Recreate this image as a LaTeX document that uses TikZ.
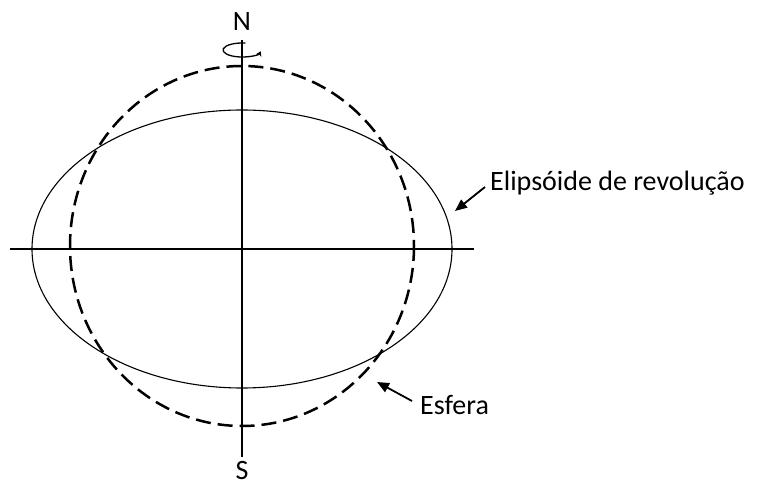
\documentclass[tikz,border=0pt]{standalone}
\usepackage{fontspec}
\setmainfont{Carlito}
\usetikzlibrary{arrows.meta}
\begin{document}
\begin{tikzpicture}[x=1pt,y=-1pt,
  lbl/.style={font=\fontsize{28}{32}\selectfont,inner sep=0pt},
  ptr/.style={line width=1.8pt,-{Triangle[length=12pt,width=10pt]}}]
\useasboundingbox (0,0) rectangle (761,486);
% axes
\coordinate (axT) at (242,40);
\coordinate (axB) at (242,457);
\coordinate (axL) at (10,249);
\coordinate (axR) at (474,249);
\draw[line width=1.3pt] (axT) -- (axB);
\draw[line width=1.3pt] (axL) -- (axR);
% ellipsoid
\draw[line width=1.1pt] (242,249) ellipse [x radius=210, y radius=139];
% sphere
\draw[line width=2.5pt,dash pattern=on 15pt off 7pt] (242,246) ellipse [x radius=172, y radius=180];
% labels
\node[lbl,anchor=base] (N) at (242,31) {N};
\node[lbl,anchor=base] (S) at (242,479) {S};
\node[lbl,anchor=base west] (el) at (490,191) {Elipsóide de revolução};
\node[lbl,anchor=base west] (es) at (420,415) {Esfera};
\coordinate (elt) at (485,187);
\coordinate (elh) at (455,211);
\coordinate (est) at (412,401);
\coordinate (esh) at (377,382);
\draw[ptr] (elt) -- (elh);
\draw[ptr] (est) -- (esh);
% rotation arrow
\draw[line width=1.3pt,-{Stealth[length=5pt,width=6pt]}] (242,50) ++(-80:19 and 7) arc[start angle=-80, end angle=-350, x radius=19, y radius=7];
\end{tikzpicture}
\end{document}
